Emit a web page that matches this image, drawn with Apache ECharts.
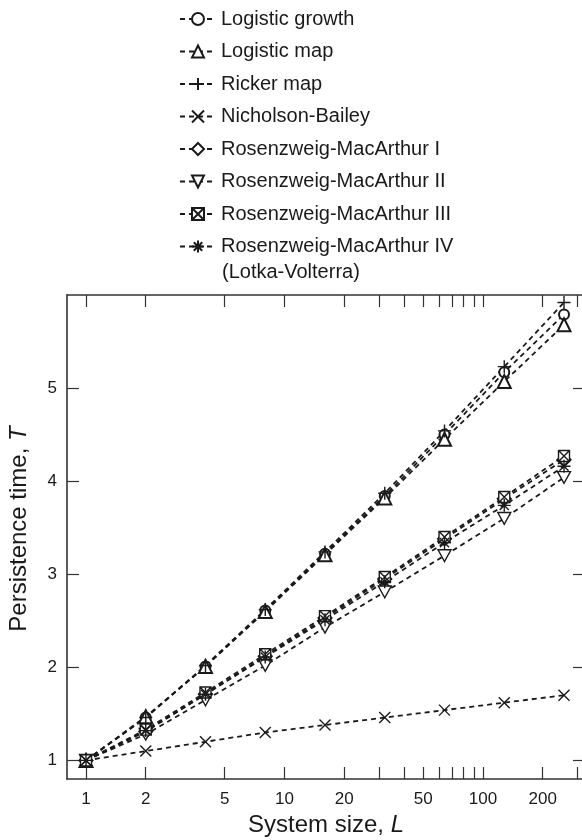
<!DOCTYPE html>
<html>
<head>
<meta charset="utf-8">
<script src="https://cdn.jsdelivr.net/npm/echarts@6/dist/echarts.min.js"></script>
<style>
  html, body { margin: 0; padding: 0; background: #fff; }
  #main { width: 582px; height: 840px; }
</style>
</head>
<body>
<div id="main"></div>
<script>
// system sizes L and persistence times T
var sizes = [1, 2, 4, 8, 16, 32, 64, 128, 256];
var logisticGrowth = [1, 1.46, 2.01, 2.61, 3.22, 3.84, 4.50, 5.17, 5.79];
var logisticMap    = [1, 1.47, 2.01, 2.60, 3.21, 3.82, 4.45, 5.07, 5.68];
var rickerMap      = [1, 1.46, 2.02, 2.62, 3.24, 3.87, 4.54, 5.23, 5.92];
var nicholsonBailey = [1, 1.10, 1.20, 1.30, 1.38, 1.46, 1.54, 1.62, 1.70];
var rmI   = [1, 1.31, 1.71, 2.12, 2.53, 2.95, 3.38, 3.81, 4.23];
var rmII  = [1, 1.28, 1.65, 2.02, 2.43, 2.81, 3.20, 3.60, 4.04];
var rmIII = [1, 1.33, 1.73, 2.14, 2.55, 2.97, 3.40, 3.83, 4.27];
var rmIV  = [1, 1.32, 1.71, 2.11, 2.51, 2.92, 3.34, 3.74, 4.16];

var xTicks = [1, 2, 5, 10, 20, 30, 40, 50, 60, 70, 80, 90, 100, 200, 300];
var xLabels = [1, 2, 5, 10, 20, 50, 100, 200];
var yTicks = [1, 2, 3, 4, 5];

var FONT = '"Liberation Sans", Arial, Helvetica, sans-serif';
var INK = '#1a1a1a';

function lg(v) { return Math.log(v) / Math.LN10; }
function pts(vals) {
	var out = [];
	for (var i = 0; i < sizes.length; i++) {
		out.push([lg(sizes[i]), vals[i]]);
	}
	return out;
}

// marker shapes
var PLUS = 'path://M5,0V10M0,5H10';
var CROSS = 'path://M0,0L10,10M10,0L0,10';
var DOWN_TRI = 'path://M0,0L10,0L5,9Z';
var BOX_X = 'path://M0,0H10V10H0ZM0,0L10,10M10,0L0,10';
var STAR = 'path://M5,0V10M0,5H10M1.5,1.5L8.5,8.5M8.5,1.5L1.5,8.5';

function mk(name, vals, symbol, size, builtIn) {
	return {
		name: name,
		type: 'line',
		data: pts(vals),
		symbol: symbol,
		symbolSize: size,
		symbolKeepAspect: true,
		lineStyle: { color: INK, width: 1.8, type: [5, 4] },
		itemStyle: builtIn
			? { color: INK, borderWidth: 1.4 }
			: { color: '#fff', borderColor: INK, borderWidth: 1.4 },
		emphasis: { disabled: true },
		animation: false
	};
}

var series = [
	mk('Logistic growth', logisticGrowth, 'emptyCircle', 10, true),
	mk('Logistic map', logisticMap, 'emptyTriangle', 13, true),
	mk('Ricker map', rickerMap, PLUS, 13, false),
	mk('Nicholson-Bailey', nicholsonBailey, CROSS, 11, false),
	mk('Rosenzweig-MacArthur I', rmI, 'emptyDiamond', 13, true),
	mk('Rosenzweig-MacArthur II', rmII, DOWN_TRI, 13, false),
	mk('Rosenzweig-MacArthur III', rmIII, BOX_X, 11, false),
	mk('Rosenzweig-MacArthur IV', rmIV, STAR, 13, false)
];

var xMin = -0.0957, xMax = 2.514;
var axisLine = { show: true, onZero: false, lineStyle: { color: '#333', width: 1.6 } };
var tickStyle = { color: '#333', width: 1.2 };

var chart = echarts.init(document.getElementById('main'));
chart.setOption({
	backgroundColor: '#fff',
	animation: false,
	textStyle: { fontFamily: FONT },
	grid: { left: 67, right: -3, top: 295, bottom: 61, outerBoundsMode: 'none' },
	legend: {
		orient: 'vertical',
		left: 174,
		top: 2,
		itemWidth: 36,
		itemHeight: 15,
		itemGap: 8.5,
		textStyle: { fontSize: 20, color: INK, lineHeight: 24, fontFamily: FONT },
		data: series.map(function (s) { return s.name; })
	},
	graphic: [{
		type: 'text',
		left: 222,
		top: 262,
		style: { text: '(Lotka-Volterra)', fontSize: 20, fill: INK, fontFamily: FONT }
	}],
	xAxis: [{
		type: 'value',
		min: xMin,
		max: xMax,
		name: 'System size, {i|L}',
		nameLocation: 'middle',
		nameGap: 34,
		nameTextStyle: { fontSize: 24, color: INK, rich: { i: { fontSize: 24, fontStyle: 'italic', color: INK } } },
		axisLine: axisLine,
		splitLine: { show: false },
		axisTick: { inside: true, length: 12, lineStyle: tickStyle, customValues: xTicks.map(lg) },
		axisLabel: {
			fontSize: 17, color: INK, margin: 12,
			customValues: xLabels.map(lg),
			formatter: function (v) { return String(Math.round(Math.pow(10, v))); }
		}
	}, {
		type: 'value',
		position: 'top',
		min: xMin,
		max: xMax,
		axisLine: axisLine,
		splitLine: { show: false },
		axisTick: { inside: true, length: 12, lineStyle: tickStyle, customValues: xTicks.map(lg) },
		axisLabel: { show: false }
	}],
	yAxis: [{
		type: 'value',
		min: 0.8,
		max: 6,
		name: 'Persistence time, {i|T}',
		nameLocation: 'middle',
		nameGap: 36,
		nameTextStyle: {
			fontSize: 24, color: INK, padding: [0, 0, 0, 16],
			rich: { i: { fontSize: 24, fontStyle: 'italic', color: INK } }
		},
		axisLine: axisLine,
		splitLine: { show: false },
		axisTick: { inside: true, length: 12, lineStyle: tickStyle, customValues: yTicks },
		axisLabel: { fontSize: 17, color: INK, margin: 10, customValues: yTicks }
	}, {
		type: 'value',
		position: 'right',
		min: 0.8,
		max: 6,
		axisLine: axisLine,
		splitLine: { show: false },
		axisTick: { inside: true, length: 12, lineStyle: tickStyle, customValues: yTicks },
		axisLabel: { show: false }
	}],
	series: series
});
</script>
</body>
</html>
